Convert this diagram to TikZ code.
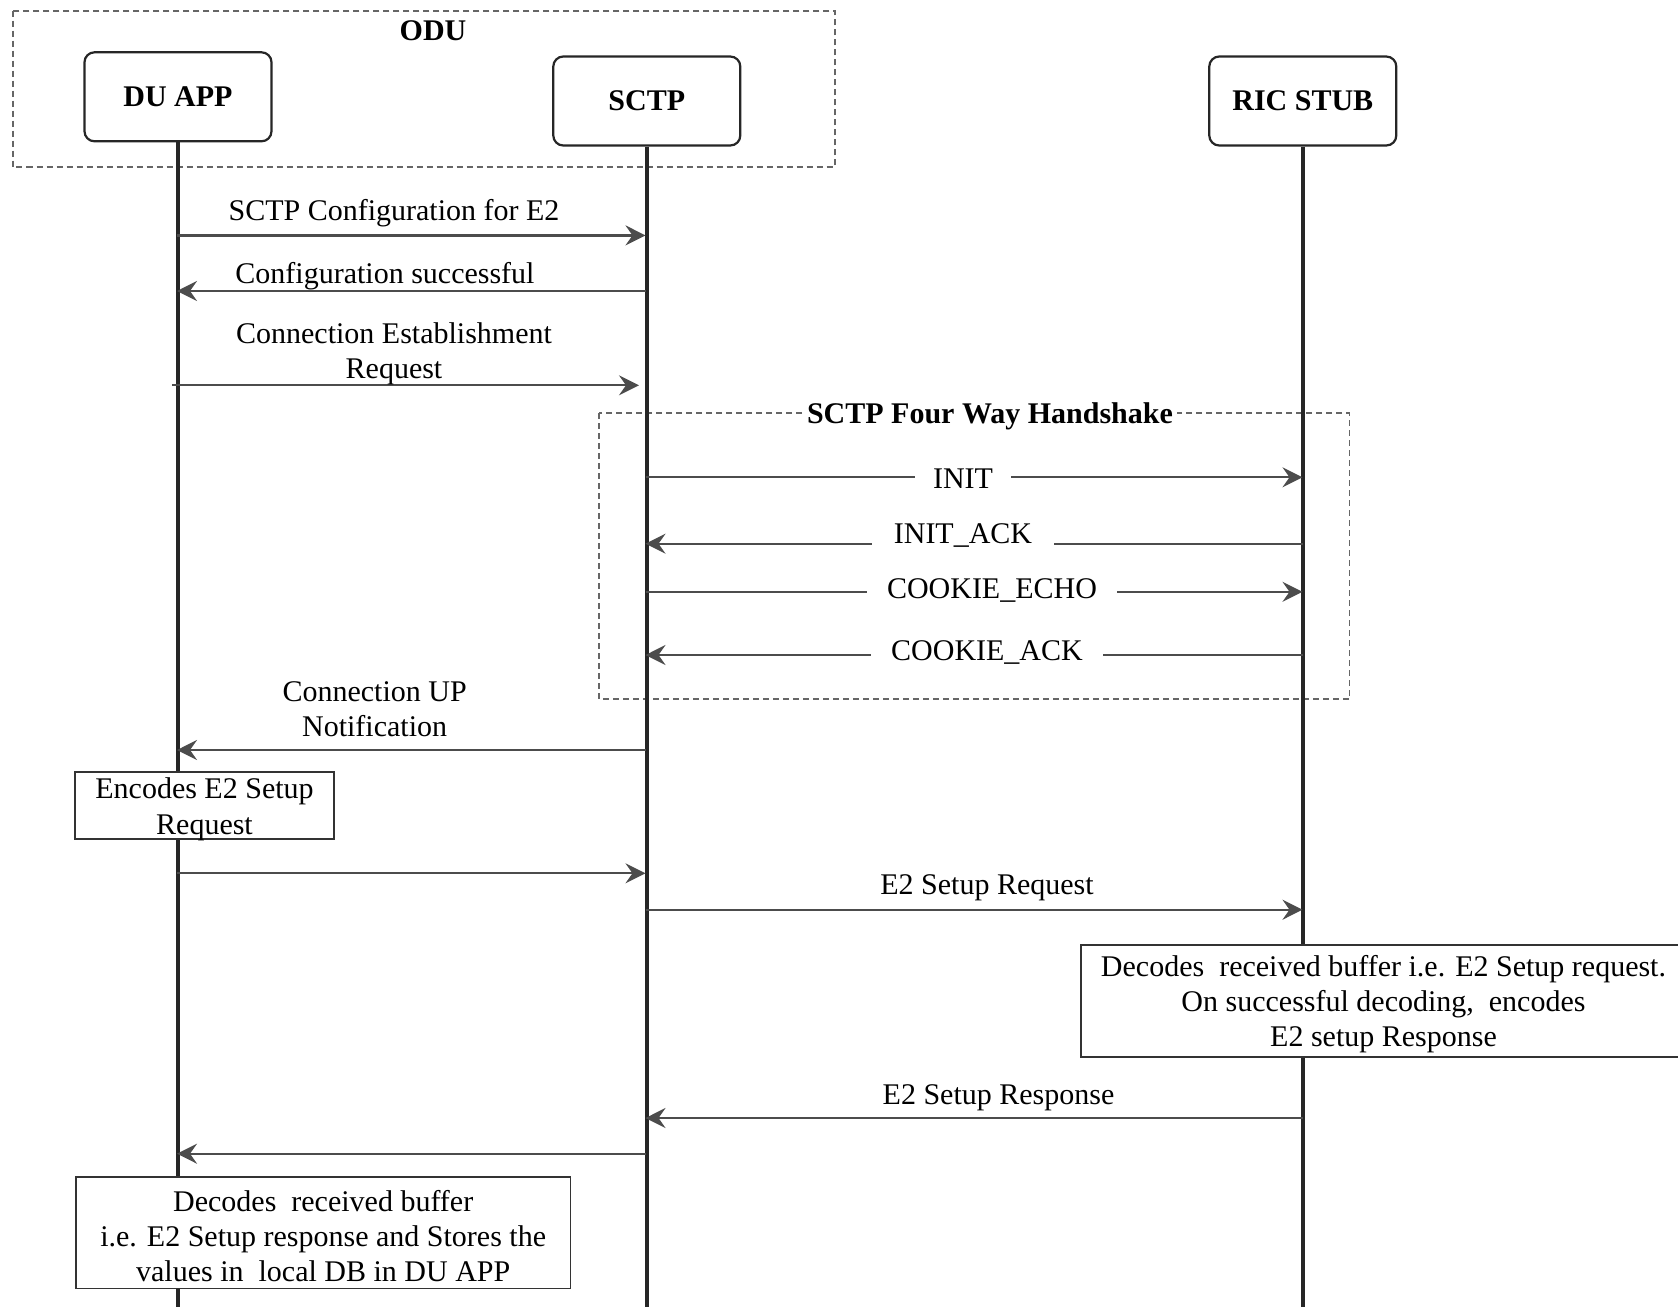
\documentclass[tikz,border=0pt]{standalone}
\usepackage{fontspec}
\setmainfont{Liberation Serif}
\usetikzlibrary{arrows.meta}
\tikzset{
  txt/.style={font=\fontsize{15pt}{17.6pt}\selectfont, align=center, inner sep=1pt},
  actor/.style={txt, font=\fontsize{15pt}{17.6pt}\selectfont\bfseries, draw=black!85, line width=1.1pt, rounded corners=5pt, fill=white, minimum width=93.5pt, minimum height=44.5pt},
  note/.style={draw=black!80, line width=0.9pt, fill=white, inner sep=0pt},
  group/.style={draw=black!60, line width=0.8pt, dash pattern=on 3pt off 2pt},
  life/.style={draw=black!85, line width=1.9pt},
  msg/.style={draw=black!70, line width=1.1pt, -{Stealth[length=10pt,width=10pt,inset=3.5pt]}},
  lbl/.style={txt, fill=white, inner xsep=9pt, inner ysep=3pt}
}
\begin{document}
\begin{tikzpicture}[x=0.5pt,y=-0.5pt]
\clip (0,0) rectangle (1678,1307);
\fill[white] (0,0) rectangle (1678,1307);

% group boxes
\draw[group] (12.8,10.7) rectangle (834.8,167);
\node[txt, font=\fontsize{15pt}{17.6pt}\selectfont\bfseries] (odu) at (433,31) {ODU};
\draw[group] (599,413) rectangle (1349.5,699);
\node[lbl, font=\fontsize{15pt}{17.6pt}\selectfont\bfseries, inner xsep=2pt, inner ysep=0pt] (hs) at (990,416) {SCTP Four Way Handshake};

% actors
\node[actor] (du) at (178,96.8) {DU APP};
\node[actor] (sctp) at (646.8,101) {SCTP};
\node[actor] (ric) at (1302.8,101) {RIC STUB};

\coordinate (duB) at (177,1320);
\coordinate (scB) at (645.5,1320);
\coordinate (riB) at (1302.5,1320);
\draw[life] (du.south) -- (du.south |- duB);
\draw[life] (sctp.south) -- (sctp.south |- scB);
\draw[life] (ric.south) -- (ric.south |- riB);

% message end points
\coordinate (m1a) at (177,235.4);  \coordinate (m1b) at (645.5,235.4);
\coordinate (m2a) at (645.5,291);  \coordinate (m2b) at (177,291);
\coordinate (m3a) at (172,385.3);  \coordinate (m3b) at (639,385.3);
\coordinate (m4a) at (645.5,477.3); \coordinate (m4b) at (1302.5,477.3);
\coordinate (m5a) at (1302.5,543.7); \coordinate (m5b) at (645.5,543.7);
\coordinate (m6a) at (645.5,591.8); \coordinate (m6b) at (1302.5,591.8);
\coordinate (m7a) at (1302.5,655); \coordinate (m7b) at (645.5,655);
\coordinate (m8a) at (645.5,750);  \coordinate (m8b) at (177,750);
\coordinate (m9a) at (177,873.3);  \coordinate (m9b) at (645.5,873.3);
\coordinate (m10a) at (645.5,909.7); \coordinate (m10b) at (1302.5,909.7);
\coordinate (m11a) at (1302.5,1118); \coordinate (m11b) at (645.5,1118);
\coordinate (m12a) at (645.5,1153.7); \coordinate (m12b) at (177,1153.7);

\draw[msg] (m1a) -- (m1b);
\draw[msg] (m2a) -- (m2b);
\draw[msg] (m3a) -- (m3b);
\draw[msg] (m4a) -- (m4b);
\draw[msg] (m5a) -- (m5b);
\draw[msg] (m6a) -- (m6b);
\draw[msg] (m7a) -- (m7b);
\draw[msg] (m8a) -- (m8b);
\draw[msg] (m9a) -- (m9b);
\draw[msg] (m10a) -- (m10b);
\draw[msg] (m11a) -- (m11b);
\draw[msg] (m12a) -- (m12b);

% labels
\node[txt] (l1) at (394,213.5) {SCTP Configuration for E2};
\node[txt] (l2) at (385,276) {Configuration successful};
\node[txt] (l3) at (394,353.5) {Connection Establishment\\Request};
\node[lbl] (l4) at (963,479) {INIT};
\node[lbl, inner xsep=11pt] (l5) at (963,535.5) {INIT\_ACK};
\node[lbl, inner xsep=10pt] (l6) at (992,590) {COOKIE\_ECHO};
\node[lbl, inner xsep=10pt] (l7) at (987,652) {COOKIE\_ACK};
\node[txt] (l8) at (374.6,709) {Connection UP\\Notification};
\node[txt] (l10) at (987,888) {E2 Setup Request};
\node[txt] (l11) at (998.5,1098) {E2 Setup Response};

% notes
\node[note, minimum width=129.5pt, minimum height=33.7pt] (n1) at (204.5,805.3) {};
\node[txt, yshift=-2pt] (n1t) at (n1.center) {Encodes E2 Setup\\Request};
\node[note, minimum width=304.5pt, minimum height=56pt] (n2) at (1385.5,1001) {};
\node[txt, yshift=-1.5pt] (n2t) at (1383.5,1001) {Decodes~ received buffer i.e. E2 Setup request.\\On successful decoding,~ encodes\\E2 setup Response};
\node[note, minimum width=247.2pt, minimum height=55.75pt] (n3) at (323.2,1232.8) {};
\node[txt, yshift=-1.5pt] (n3t) at (n3.center) {Decodes~ received buffer\\i.e. E2 Setup response and Stores the\\values in~ local DB in DU APP};
\end{tikzpicture}
\end{document}
